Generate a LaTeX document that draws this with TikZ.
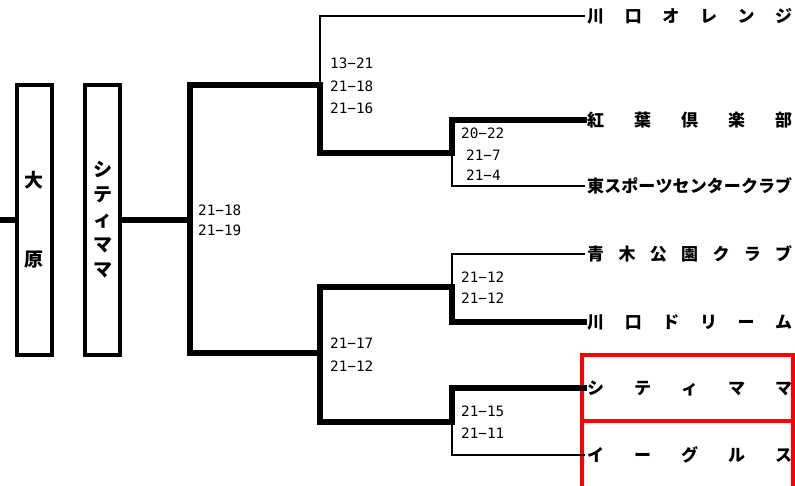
\documentclass[tikz,border=0pt]{standalone}
\usepackage{fontspec}
\newfontfamily\jp{Noto Sans CJK JP}
\newfontfamily\scorefont{DejaVu Sans Mono}
\newcommand\spreadname[1]{\makebox[205pt][s]{#1}}
\begin{document}
\begin{tikzpicture}[x=1pt,y=-1pt,
  win/.style={line width=6pt,line cap=rect},
  lose/.style={line width=2.7pt,line cap=rect},
  frame/.style={draw,line width=4pt,inner sep=0pt,minimum width=35pt,minimum height=270pt,align=center},
  team/.style={anchor=west,inner xsep=3pt,inner ysep=0pt,text height=14.5pt,text depth=2.5pt,font=\jp\bfseries\fontsize{17}{17}\selectfont},
  score/.style={anchor=west,inner sep=0pt,text height=10pt,text depth=0pt,font=\scorefont\fontsize{14.3}{14.3}\selectfont},
  redbox/.style={draw=red,line width=4pt}]
\useasboundingbox (0,0) rectangle (795,485);

% boxes
\node[frame,font=\jp\bfseries\fontsize{19}{79}\selectfont] (b1) at (34,220) {大\\原};
\node[frame,font=\jp\bfseries\fontsize{19}{25}\selectfont] (b2) at (102.5,220) {シ\\テ\\ィ\\マ\\マ};

% red boxes
\draw[redbox] (582,355) rectangle (793,421);
\draw[redbox] (582,421) rectangle (793,492);

% teams
\node[team] (t1) at (584,16) {\spreadname{川\hfill 口\hfill オ\hfill レ\hfill ン\hfill ジ}};
\node[team] (t2) at (584,120) {\spreadname{紅\hfill 葉\hfill 倶\hfill 楽\hfill 部}};
\node[team] (t3) at (584,186) {\spreadname{東\hfill ス\hfill ポ\hfill ー\hfill ツ\hfill セ\hfill ン\hfill タ\hfill ー\hfill ク\hfill ラ\hfill ブ}};
\node[team] (t4) at (584,254) {\spreadname{青\hfill 木\hfill 公\hfill 園\hfill ク\hfill ラ\hfill ブ}};
\node[team] (t5) at (584,322) {\spreadname{川\hfill 口\hfill ド\hfill リ\hfill ー\hfill ム}};
\node[team] (t6) at (584,388) {\spreadname{シ\hfill テ\hfill ィ\hfill マ\hfill マ}};
\node[team] (t7) at (584,455) {\spreadname{イ\hfill ー\hfill グ\hfill ル\hfill ス}};

% junction coordinates
\coordinate (L) at (0,220);
\coordinate (f) at (190,220);
\coordinate (fT) at (190,85);
\coordinate (fB) at (190,353);
\coordinate (s1) at (320,85);
\coordinate (s2) at (320,353);
\coordinate (q1) at (452,153);
\coordinate (q2) at (452,287);
\coordinate (q3) at (452,422);

% connectors
\draw[win] (L) -- (b1.west);
\draw[win] (b2.east) -- (f);
\draw[win] (s1) -- (fT) -- (fB) -- (s2);
\draw[lose] (s1) |- (t1.west);
\draw[win] (s1) |- (q1);
\draw[win] (q1) |- (t2.west);
\draw[lose] (q1) |- (t3.west);
\draw[win] (q2) -| (s2) |- (q3);
\draw[lose] (q2) |- (t4.west);
\draw[win] (q2) |- (t5.west);
\draw[win] (q3) |- (t6.west);
\draw[lose] (q3) |- (t7.west);

% scores
\node[score] (a1) at (330,63) {13−21};
\node[score] (a2) at (330,86) {21−18};
\node[score] (a3) at (330,108) {21−16};
\node[score] (c1) at (461,133) {20−22};
\node[score] (c2) at (466,155) {21−7};
\node[score] (c3) at (466,175) {21−4};
\node[score] (d1) at (198,210) {21−18};
\node[score] (d2) at (198,230) {21−19};
\node[score] (e1) at (330,343) {21−17};
\node[score] (e2) at (330,366) {21−12};
\node[score] (g1) at (461,277) {21−12};
\node[score] (g2) at (461,298) {21−12};
\node[score] (h1) at (461,411) {21−15};
\node[score] (h2) at (461,433) {21−11};
\end{tikzpicture}
\end{document}
